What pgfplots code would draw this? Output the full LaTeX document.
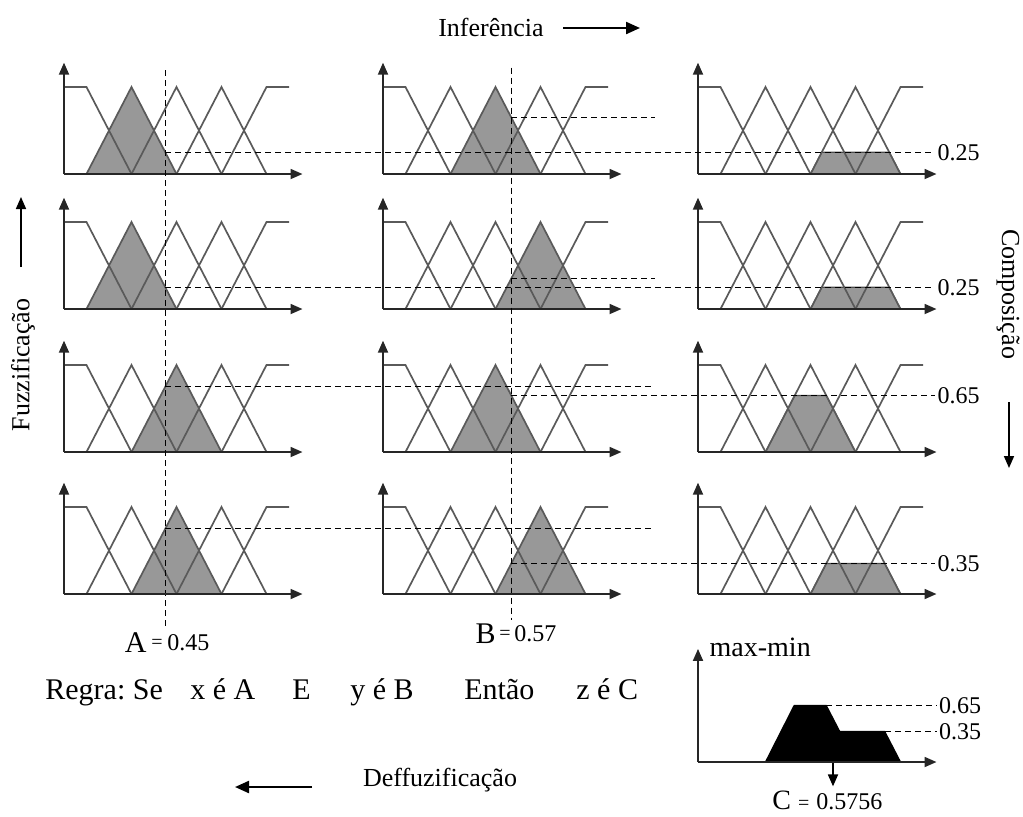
\documentclass[border=0pt]{standalone}
\usepackage{pgfplots}
\pgfplotsset{compat=1.18}
\usetikzlibrary{arrows.meta}
\usepackage{fontspec}
\setmainfont{Liberation Serif}
\frenchspacing
\definecolor{mf}{RGB}{90,90,90}
\definecolor{shade}{RGB}{152,152,152}
\newcommand\fs[1]{\fontsize{#1}{#1}\selectfont}
\pgfplotsset{
 panel/.style={x=112.5pt, y=43.5pt, xmin=0, xmax=1.06, ymin=0, ymax=1.28,
   enlargelimits=false, axis lines=left,
   axis line style={line width=0.9pt, black!85, -{Triangle[length=6pt,width=5pt]}},
   xtick=\empty, ytick=\empty, clip=false, anchor=south west, axis on top},
 mfline/.style={mf, line width=0.85pt, no marks},
}
\tikzset{dsh/.style={black, line width=0.6pt, dash pattern=on 3pt off 2pt}}
\newcommand\mfs{%
 \addplot[mfline] coordinates {(0,1) (0.1,1) (0.3,0)};
 \addplot[mfline] coordinates {(0.1,0) (0.3,1) (0.5,0)};
 \addplot[mfline] coordinates {(0.3,0) (0.5,1) (0.7,0)};
 \addplot[mfline] coordinates {(0.5,0) (0.7,1) (0.9,0)};
 \addplot[mfline] coordinates {(0.7,0) (0.9,1) (1.0,1)};
}
\begin{document}
\begin{tikzpicture}
\useasboundingbox (0pt,0pt) rectangle (511.5pt,-408pt);
% ---------- Row 1
\begin{axis}[panel, at={(349pt,-87pt)}]
 \addplot[fill=shade, draw=black!70, line width=0.6pt] coordinates {(0.5,0) (0.55,0.25) (0.85,0.25) (0.9,0)} \closedcycle;
 \mfs
\end{axis}
\begin{axis}[panel, at={(191.5pt,-87pt)}]
 \addplot[fill=shade, draw=none] coordinates {(0.3,0) (0.5,1) (0.7,0)} \closedcycle;
 \mfs
 \draw[dsh] (0.57,0.65) -- (1.209,0.65);
\end{axis}
\begin{axis}[panel, at={(32pt,-87pt)}]
 \addplot[fill=shade, draw=none] coordinates {(0.1,0) (0.3,1) (0.5,0)} \closedcycle;
 \mfs
 \draw[dsh] (0.45,0.25) -- (3.871,0.25) node[anchor=west, inner sep=1pt] {\fs{12}0.25};
\end{axis}
% ---------- Row 2
\begin{axis}[panel, at={(349pt,-154.5pt)}]
 \addplot[fill=shade, draw=black!70, line width=0.6pt] coordinates {(0.5,0) (0.55,0.25) (0.85,0.25) (0.9,0)} \closedcycle;
 \mfs
\end{axis}
\begin{axis}[panel, at={(191.5pt,-154.5pt)}]
 \addplot[fill=shade, draw=none] coordinates {(0.5,0) (0.7,1) (0.9,0)} \closedcycle;
 \mfs
 \draw[dsh] (0.57,0.35) -- (1.209,0.35);
\end{axis}
\begin{axis}[panel, at={(32pt,-154.5pt)}]
 \addplot[fill=shade, draw=none] coordinates {(0.1,0) (0.3,1) (0.5,0)} \closedcycle;
 \mfs
 \draw[dsh] (0.45,0.25) -- (3.871,0.25) node[anchor=west, inner sep=1pt] {\fs{12}0.25};
\end{axis}
% ---------- Row 3
\begin{axis}[panel, at={(349pt,-226pt)}]
 \addplot[fill=shade, draw=black!70, line width=0.6pt] coordinates {(0.3,0) (0.43,0.65) (0.57,0.65) (0.7,0)} \closedcycle;
 \mfs
\end{axis}
\begin{axis}[panel, at={(191.5pt,-226pt)}]
 \addplot[fill=shade, draw=none] coordinates {(0.3,0) (0.5,1) (0.7,0)} \closedcycle;
 \mfs
 \draw[dsh] (0.57,0.65) -- (2.453,0.65) node[anchor=west, inner sep=1pt] {\fs{12}0.65};
\end{axis}
\begin{axis}[panel, at={(32pt,-226pt)}]
 \addplot[fill=shade, draw=none] coordinates {(0.3,0) (0.5,1) (0.7,0)} \closedcycle;
 \mfs
 \draw[dsh] (0.45,0.75) -- (2.627,0.75);
\end{axis}
% ---------- Row 4
\begin{axis}[panel, at={(349pt,-297pt)}]
 \addplot[fill=shade, draw=black!70, line width=0.6pt] coordinates {(0.5,0) (0.57,0.35) (0.83,0.35) (0.9,0)} \closedcycle;
 \mfs
\end{axis}
\begin{axis}[panel, at={(191.5pt,-297pt)}]
 \addplot[fill=shade, draw=none] coordinates {(0.5,0) (0.7,1) (0.9,0)} \closedcycle;
 \mfs
 \draw[dsh] (0.57,0.35) -- (2.453,0.35) node[anchor=west, inner sep=1pt] {\fs{12}0.35};
 \draw[dsh] (0.57,6.05) -- (0.57,-0.30);
\end{axis}
\begin{axis}[panel, at={(32pt,-297pt)}]
 \addplot[fill=shade, draw=none] coordinates {(0.3,0) (0.5,1) (0.7,0)} \closedcycle;
 \mfs
 \draw[dsh] (0.45,0.75) -- (2.627,0.75);
 \draw[dsh] (0.45,6.02) -- (0.45,-0.39);
\end{axis}
% ---------- Aggregated output (max-min)
\begin{axis}[panel, at={(349pt,-381pt)}, ymax=1.3]
 \addplot[fill=black, draw=black, line width=0.6pt] coordinates {(0.3,0) (0.4275,0.65) (0.57,0.65) (0.63,0.35) (0.83,0.35) (0.9,0)} \closedcycle;
 \draw[dsh] (0.57,0.65) -- (1.06,0.65) node[anchor=west, inner sep=1pt] {\fs{12}0.65};
 \draw[dsh] (0.83,0.35) -- (1.06,0.35) node[anchor=west, inner sep=1pt] {\fs{12}0.35};
 \draw[line width=0.9pt, -{Triangle[length=6pt,width=5pt]}] (0.6,0) -- (0.6,-0.28);
 \node[anchor=west, inner sep=0pt] at (0.05,1.32) {\fs{14}max-min};
\end{axis}
\begin{scope}[x=0.5pt,y=-0.5pt]
% ---------- Texts and arrows
\node[inner sep=0pt] at (491,27) {\fs{13}Inferência};
\draw[line width=1.1pt, -{Triangle[length=7pt,width=6pt]}] (563,28) -- (640,28);
\node[rotate=90, inner sep=0pt] at (23,365) {\fs{13}Fuzzificação};
\draw[line width=0.8pt, -{Triangle[length=6pt,width=5pt]}] (21,267) -- (21,197);
\node[rotate=-90, inner sep=0pt] at (1008,294) {\fs{13}Composição};
\draw[line width=0.8pt, -{Triangle[length=6pt,width=5pt]}] (1009,402) -- (1009,468);
\node[inner sep=0pt] at (440,780) {\fs{13}Deffuzificação};
\draw[line width=1.1pt, -{Triangle[length=7pt,width=6pt]}] (312,787) -- (235,787);
% rule
\node[anchor=base west, inner sep=0pt] at (45,699) {\fs{15}Regra: Se};
\node[anchor=base west, inner sep=0pt] at (190,699) {\fs{15}x é A};
\node[anchor=base west, inner sep=0pt] at (292,699) {\fs{15}E};
\node[anchor=base west, inner sep=0pt] at (350,699) {\fs{15}y é B};
\node[anchor=base west, inner sep=0pt] at (464,699) {\fs{15}Então};
\node[anchor=base west, inner sep=0pt] at (576,699) {\fs{15}z é C};
% A, B, C values
\node[anchor=base east, inner sep=0pt] at (147,652) {\fs{15}A};
\node[anchor=base, inner sep=0pt] at (157,648) {\fs{10}=};
\node[anchor=base west, inner sep=0pt] at (167,650) {\fs{12}0.45};
\node[anchor=base east, inner sep=0pt] at (496,643) {\fs{15}B};
\node[anchor=base, inner sep=0pt] at (505,639) {\fs{10}=};
\node[anchor=base west, inner sep=0pt] at (514,641) {\fs{12}0.57};
\node[anchor=base west, inner sep=0pt] at (772,809) {\fs{14}C {\fs{10}=} {\fs{12}0.5756}};
\end{scope}
\end{tikzpicture}
\end{document}
